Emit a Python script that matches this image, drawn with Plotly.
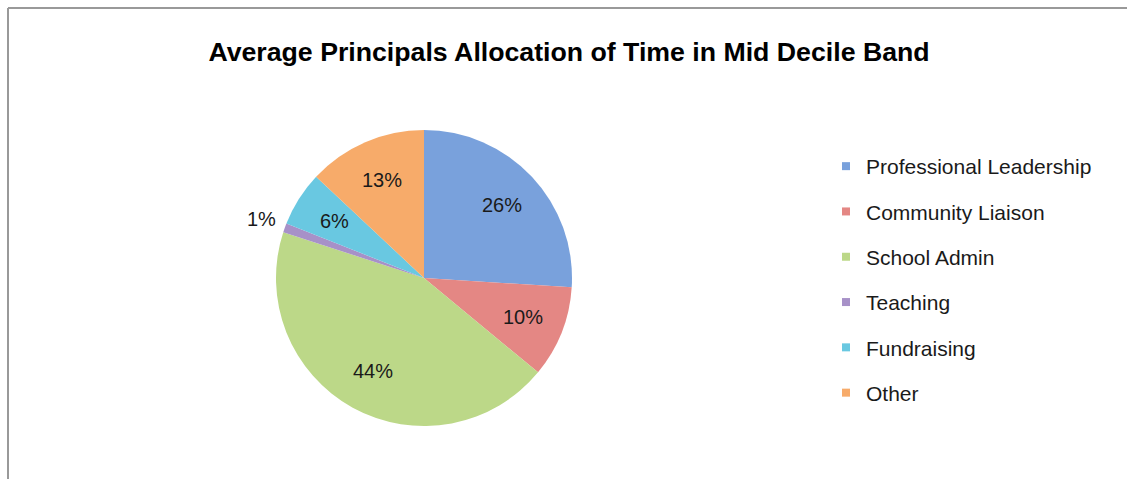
import math
import plotly.graph_objects as go

# Principal time allocation, mid decile band (percent of time)
categories = ["Professional Leadership", "Community Liaison", "School Admin",
              "Teaching", "Fundraising", "Other"]
shares = [26, 10, 44, 1, 6, 13]
colors = ["#79a1dc", "#e48784", "#bcd888", "#a791c8", "#69c8e1", "#f7ab6a"]
label_outside = [False, False, False, True, False, False]

W, H = 1127, 479
FONT = "Liberation Sans, Arial, Helvetica, sans-serif"

# pie geometry in pixels
CX, CY, R = 424, 278, 148

fig = go.Figure()

fig.add_trace(go.Pie(
    labels=categories,
    values=shares,
    sort=False,
    direction="clockwise",
    rotation=0,
    marker=dict(colors=colors, line=dict(width=0)),
    textinfo="none",
    showlegend=False,
    domain=dict(x=[(CX - R) / W, (CX + R) / W], y=[1 - (CY + R) / H, 1 - (CY - R) / H]),
    hoverinfo="label+percent",
))

# percentage labels placed along each slice's mid-angle
total = sum(shares)
annotations = []
acc = 0.0
for v, outside in zip(shares, label_outside):
    mid = (acc + v / 2) / total * 2 * math.pi
    acc += v
    rr = R * (1.17 if outside else 0.72)
    px = CX + rr * math.sin(mid)
    py = CY - rr * math.cos(mid)
    annotations.append(dict(
        x=px / W, y=1 - py / H, xref="paper", yref="paper",
        text=f"{round(v / total * 100)}%", showarrow=False,
        xanchor="center", yanchor="middle",
        font=dict(family=FONT, size=20, color="#1a1a1a"),
    ))

# legend entries as small squares
for name, c in zip(categories, colors):
    fig.add_trace(go.Scatter(
        x=[None], y=[None], mode="markers", name=name,
        marker=dict(symbol="square", size=8, color=c),
        legendgroup=name, showlegend=True,
    ))

fig.update_layout(
    width=W, height=H,
    margin=dict(l=0, r=0, t=0, b=0),
    paper_bgcolor="white",
    plot_bgcolor="white",
    font=dict(family=FONT, size=20, color="#1a1a1a"),
    title=dict(
        text="<b>Average Principals Allocation of Time in Mid Decile Band</b>",
        x=569 / W, xanchor="center", y=1 - 52 / H, yanchor="middle",
        font=dict(family=FONT, size=26.7, color="#000000"),
    ),
    xaxis=dict(visible=False),
    yaxis=dict(visible=False),
    legend=dict(
        x=826 / W, xanchor="left", y=1 - 146 / H, yanchor="top",
        font=dict(family=FONT, size=21, color="#1a1a1a"),
        tracegroupgap=15, itemsizing="trace",
        bgcolor="rgba(0,0,0,0)",
    ),
    annotations=annotations,
    shapes=[
        dict(type="line", xref="paper", yref="paper",
             x0=8 / W, x1=1.0, y0=1 - 8 / H, y1=1 - 8 / H,
             line=dict(color="#999999", width=2)),
        dict(type="line", xref="paper", yref="paper",
             x0=8 / W, x1=8 / W, y0=1 - 8 / H, y1=0,
             line=dict(color="#999999", width=2)),
    ],
)

fig.write_html("out.html")
